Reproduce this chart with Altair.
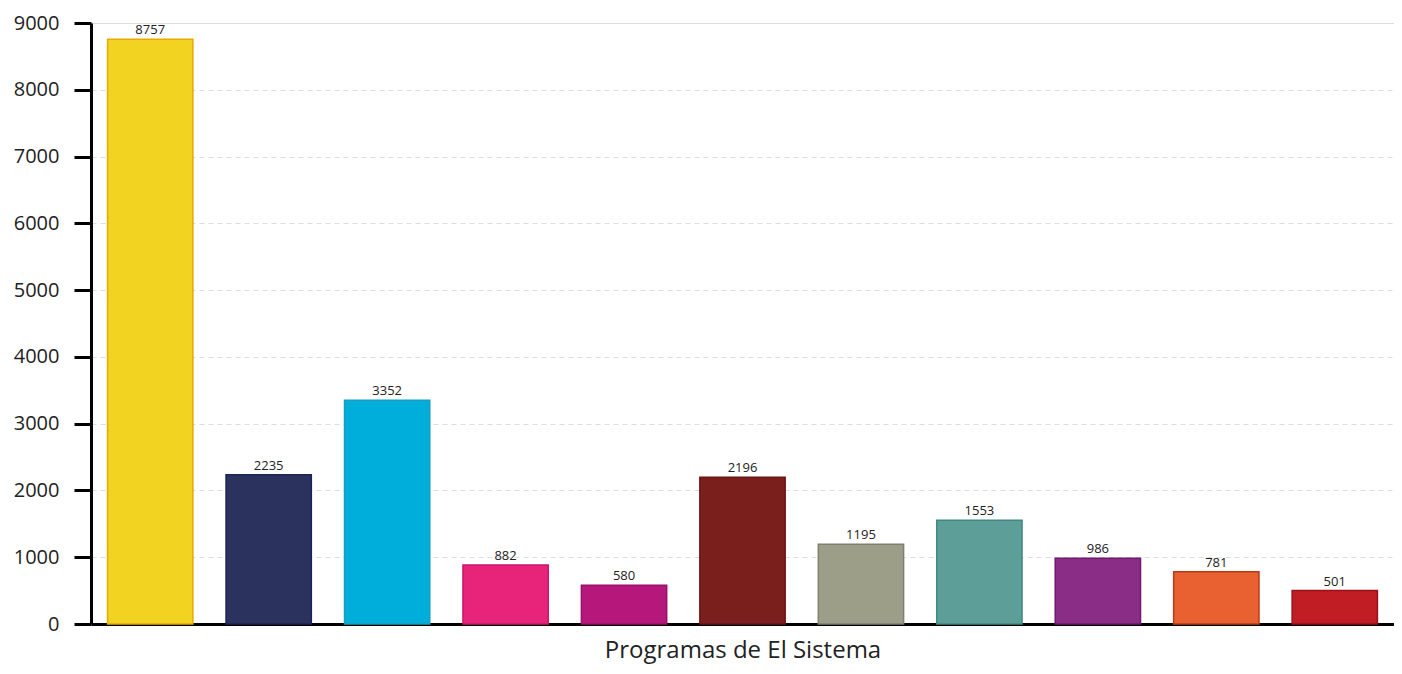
import altair as alt
import pandas as pd

programas = ["P01", "P02", "P03", "P04", "P05", "P06", "P07", "P08", "P09", "P10", "P11"]
valores = [8757, 2235, 3352, 882, 580, 2196, 1195, 1553, 986, 781, 501]
colores = ["#F2D321", "#2C325E", "#00AEDB", "#E8237A", "#B5177A", "#7B1F1D",
           "#9C9E87", "#5E9E98", "#8A2D86", "#E96130", "#C11D24"]
bordes = ["#EBA800", "#1B2458", "#1A9EC0", "#C9186A", "#98106A", "#6A1414",
          "#7E8070", "#3E8A82", "#6E1A6E", "#B83A18", "#9A1018"]

df = pd.DataFrame({"programa": programas, "valor": valores})

FONT = "Open Sans"

x = alt.X("programa:N", sort=programas,
          scale=alt.Scale(paddingInner=0.28, paddingOuter=0.14),
          axis=alt.Axis(title="Programas de El Sistema", labels=False, ticks=False,
                        domainColor="#000", domainWidth=3, titleFontSize=24,
                        titleFont=FONT, titleFontWeight="normal", titleColor="#222",
                        titlePadding=14, grid=False))
y = alt.Y("valor:Q", scale=alt.Scale(domain=[0, 9000], nice=False),
          axis=alt.Axis(title=None, values=list(range(0, 9001, 1000)), format="d",
                        domainColor="#000", domainWidth=3,
                        tickColor="#000", tickWidth=3, tickSize=17,
                        labelFont=FONT, labelFontSize=20, labelColor="#222",
                        labelPadding=15, grid=True, gridColor="#dddddd",
                        gridDash=[5, 4], gridWidth=1))

bars = alt.Chart(df).mark_bar(strokeWidth=1.5).encode(
    x=x, y=y,
    color=alt.Color("programa:N", sort=programas,
                    scale=alt.Scale(domain=programas, range=colores), legend=None),
    stroke=alt.Stroke("programa:N", sort=programas,
                      scale=alt.Scale(domain=programas, range=bordes), legend=None),
)

labels = alt.Chart(df).mark_text(dy=-9, font=FONT, fontSize=13, color="#222").encode(
    x=alt.X("programa:N", sort=programas), y=alt.Y("valor:Q"),
    text=alt.Text("valor:Q", format="d"),
)

chart = alt.layer(bars, labels).resolve_scale(color="independent").properties(
    width=1386, height=656,
    autosize=alt.AutoSizeParams(type="fit", contains="padding"),
    padding={"left": 5, "top": 5, "right": 0, "bottom": 2},
).configure_view(strokeWidth=0, stroke="transparent").configure(background="white")

chart.save("out.html", embed_options={"renderer": "svg", "actions": False})
